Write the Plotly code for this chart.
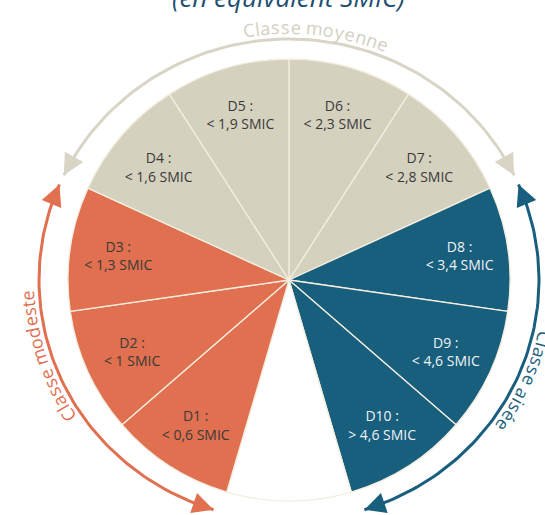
import math
import plotly.graph_objects as go

# Déciles de niveau de vie, dans l'ordre horaire à partir de midi
# (la part vide en bas sépare D10 de D1)
deciles = ["D6", "D7", "D8", "D9", "D10", "", "D1", "D2", "D3", "D4", "D5"]
seuils = ["&lt; 2,3 SMIC", "&lt; 2,8 SMIC", "&lt; 3,4 SMIC", "&lt; 4,6 SMIC", "&gt; 4,6 SMIC", "",
          "&lt; 0,6 SMIC", "&lt; 1 SMIC", "&lt; 1,3 SMIC", "&lt; 1,6 SMIC", "&lt; 1,9 SMIC"]
parts = [10, 10, 10, 10, 10, 10, 10, 10, 10, 10, 10]
classes = ["Classe moyenne", "Classe moyenne", "Classe aisée", "Classe aisée", "Classe aisée", "",
           "Classe modeste", "Classe modeste", "Classe modeste", "Classe moyenne", "Classe moyenne"]

# premier et dernier décile de chaque classe (sens horaire)
groupes = ["Classe modeste", "Classe moyenne", "Classe aisée"]
debut_groupe = ["D1", "D4", "D8"]
fin_groupe = ["D3", "D7", "D10"]

couleurs = {"Classe modeste": "#e0704f", "Classe moyenne": "#d5d1bf", "Classe aisée": "#185e7d", "": "#ffffff"}
couleurs_arc = {"Classe modeste": "#e0704f", "Classe moyenne": "#d9d5c6", "Classe aisée": "#185e7d"}
texte_arc = {"Classe modeste": "#e0704f", "Classe moyenne": "#d3cfbf", "Classe aisée": "#1d5f7e"}
milieu_texte = {"Classe modeste": 252, "Classe moyenne": 6, "Classe aisée": 114}

W, H = 545, 515
CX, CY, R = 289, 280, 221      # centre et rayon du camembert (pixels)
RX_ARC, RY_ARC = 250, 241      # rayons des flèches courbes

# angles (degrés, sens horaire depuis midi) du début de chaque part
total = sum(parts)
angle_debut = [360 * sum(parts[:i]) / total for i in range(len(parts))]
angle_fin = [360 * sum(parts[:i + 1]) / total for i in range(len(parts))]


def point(theta, rx, ry):
    t = math.radians(theta)
    return CX + rx * math.sin(t), CY - ry * math.cos(t)


fig = go.Figure()
annotations = []

# largeurs approximatives des caractères (em)
larg = {"C": 0.63, "l": 0.26, "a": 0.56, "s": 0.48, "e": 0.56, " ": 0.26, "m": 0.86,
        "o": 0.6, "y": 0.5, "n": 0.61, "d": 0.61, "t": 0.35, "i": 0.26, "é": 0.56}

for g, d0, d1 in zip(groupes, debut_groupe, fin_groupe):
    a0 = angle_debut[deciles.index(d0)] + 1.2
    a1 = angle_fin[deciles.index(d1)] - 1.2
    if a1 < a0:
        a1 += 360
    n = 80
    th = [a0 + (a1 - a0) * k / n for k in range(n + 1)]
    pts = [point(t, RX_ARC, RY_ARC) for t in th]
    fig.add_trace(go.Scatter(x=[p[0] for p in pts], y=[p[1] for p in pts], mode="lines",
                             line=dict(color=couleurs_arc[g], width=3),
                             hoverinfo="skip", showlegend=False, name=g))
    # pointes de flèche aux deux extrémités
    for tip, tail in ((pts[0], pts[3]), (pts[-1], pts[-4])):
        annotations.append(dict(x=tip[0], y=tip[1], ax=tail[0], ay=tail[1], xref="x", yref="y",
                                axref="x", ayref="y", showarrow=True, arrowhead=2, arrowsize=1.4,
                                arrowwidth=3, arrowcolor=couleurs_arc[g], text=""))

    # texte courbe le long de l'arc
    taille = 18
    esp = 0.8
    w = [larg.get(c, 0.55) * taille + esp for c in g]
    dr = 12
    r_t = (RX_ARC + RY_ARC) / 2 + dr
    pos = -sum(w) / 2
    for c, wc in zip(g, w):
        t = milieu_texte[g] + math.degrees((pos + wc / 2) / r_t)
        x, y = point(t, RX_ARC + dr, RY_ARC + dr)
        annotations.append(dict(x=x, y=y, xref="x", yref="y", text=c, showarrow=False,
                                textangle=((t + 180) % 360) - 180,
                                font=dict(family="Open Sans", size=taille, color=texte_arc[g])))
        pos += wc

# camembert
fig.add_trace(go.Pie(
    values=parts,
    labels=[d if d else "vide" for d in deciles],
    text=[f"{d} :<br>{s}" if d else "" for d, s in zip(deciles, seuils)],
    textinfo="text",
    textposition=["inside" if d else "none" for d in deciles],
    insidetextorientation="horizontal",
    insidetextfont=dict(family="Open Sans", size=14,
                        color=["#f0f3f5" if c == "Classe aisée" else "#3a3a3a" for c in classes]),
    marker=dict(colors=[couleurs[c] for c in classes], line=dict(color="#f3eedf", width=1.3)),
    sort=False, direction="clockwise", rotation=0,
    hoverinfo="none", showlegend=False,
    domain=dict(x=[(CX - R) / W, (CX + R) / W], y=[(H - CY - R) / H, (H - CY + R) / H]),
))

annotations.append(dict(x=288 / W, y=1 - 17 / H, xref="paper", yref="paper", xanchor="center",
                        yanchor="bottom", showarrow=False, text="<i>(en équivalent SMIC)</i>",
                        font=dict(family="Open Sans", size=26, color="#1d4f73")))

fig.update_layout(
    width=W, height=H,
    margin=dict(l=0, r=0, t=0, b=0),
    paper_bgcolor="white", plot_bgcolor="white",
    xaxis=dict(range=[0, W], visible=False, fixedrange=True),
    yaxis=dict(range=[H, 0], visible=False, fixedrange=True),
    annotations=annotations,
)

fig.write_html("out.html", config={"displayModeBar": False},
               post_script="document.body.style.margin='0';")
